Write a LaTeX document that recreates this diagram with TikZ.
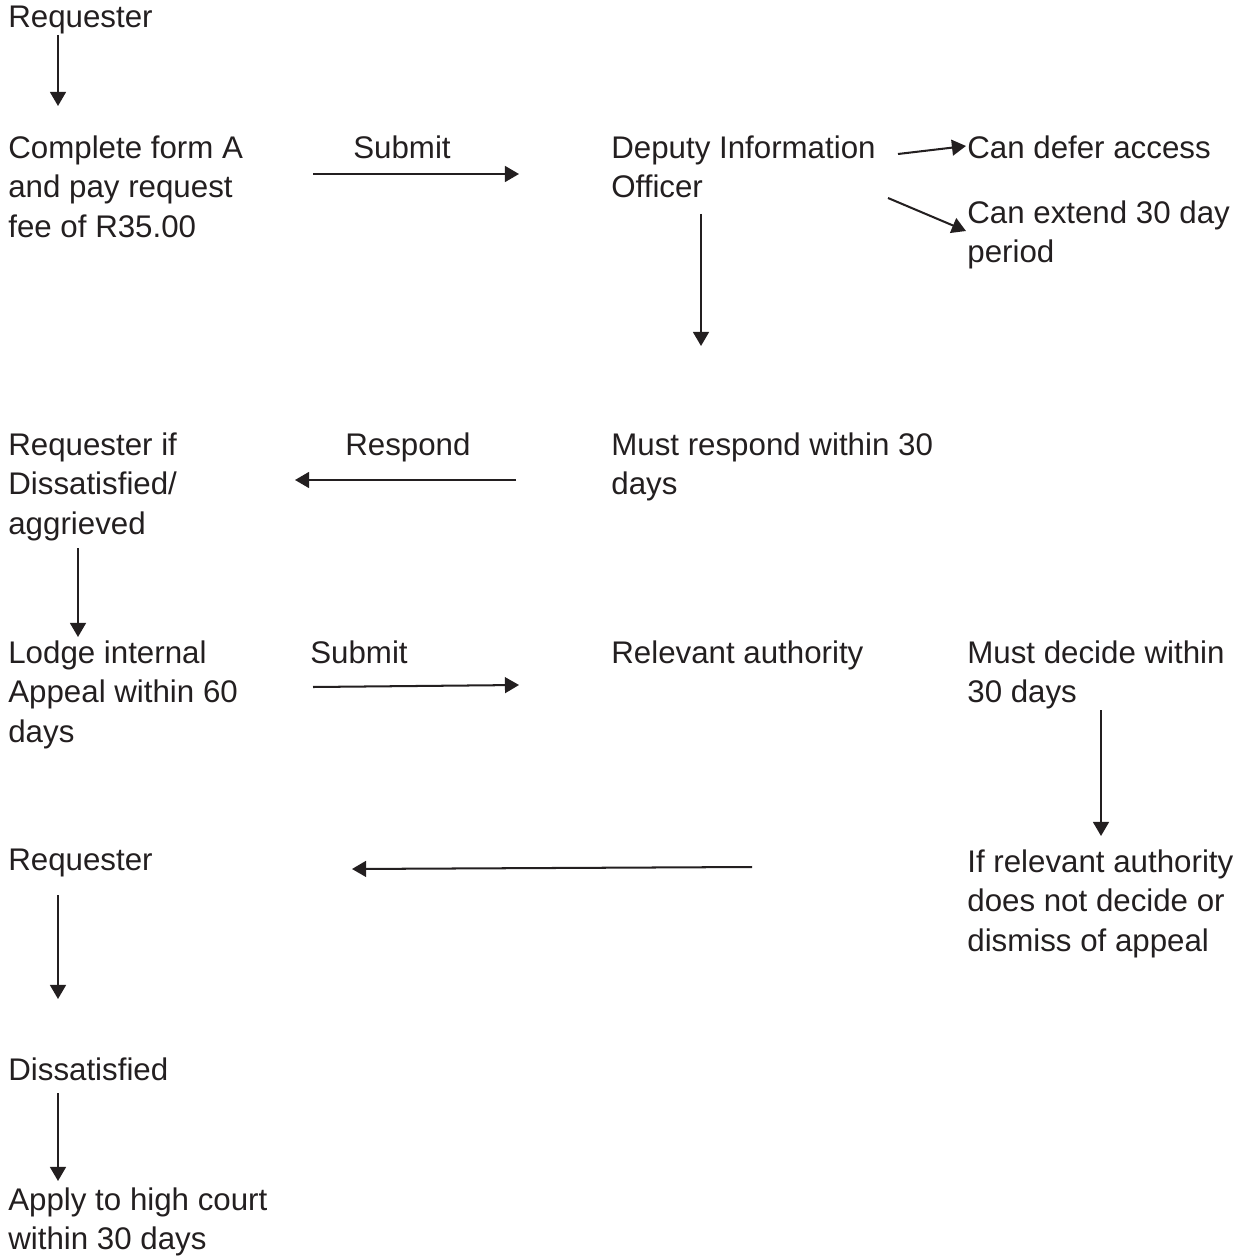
\documentclass[tikz,border=0pt]{standalone}
\usepackage{fontspec}
\setmainfont{Liberation Sans}
\usetikzlibrary{arrows.meta}
\definecolor{inkgray}{RGB}{35,31,32}
\tikzset{
  txt/.style={anchor=north west,inner sep=0pt,align=left,text=inkgray,
    font=\fontsize{17.8}{22.5}\selectfont},
  flow/.style={-{Triangle[width=9pt,length=8pt]},line width=1.15pt,draw=inkgray}
}
\begin{document}
\begin{tikzpicture}[x=0.02cm,y=-0.02cm]
		\useasboundingbox (0,0) rectangle (1245,1256);
		% texts
		\node[txt] (req) at (8,6) {Requester};
		\node[txt] (form) at (8,135) {Complete form A\\and pay request\\fee of R35.00};
		\node[txt] (subA) at (353,135) {Submit};
		\node[txt] (dio) at (611,135) {Deputy Information\\Officer};
		\node[txt] (defer) at (967,135) {Can defer access};
		\node[txt] (extend) at (967,200) {Can extend 30 day\\period};
		\node[txt] (must) at (611,432) {Must respond within 30\\days};
		\node[txt] (reqdis) at (8,432) {Requester if\\Dissatisfied/\\aggrieved};
		\node[txt] (respond) at (345,432) {Respond};
		\node[txt] (lodge) at (8,640) {Lodge internal\\Appeal within 60\\days};
		\node[txt] (subB) at (310,640) {Submit};
		\node[txt] (auth) at (611,640) {Relevant authority};
		\node[txt] (decide) at (967,640) {Must decide within\\30 days};
		\node[txt] (reqB) at (8,849) {Requester};
		\node[txt] (ifauth) at (967,849) {If relevant authority\\does not decide or\\dismiss of appeal};
		\node[txt] (dissat) at (8,1057) {Dissatisfied};
		\node[txt] (court) at (8,1187) {Apply to high court\\within 30 days};
		% arrow ends
		\coordinate (reqS) at (58,35);
		\coordinate (formN) at (58,106);
		\coordinate (formE) at (313,174);
		\coordinate (dioW) at (519,174);
		\coordinate (dioE1) at (898,154);
		\coordinate (deferW) at (966,146);
		\coordinate (dioE2) at (888,198);
		\coordinate (extendW) at (966,231);
		\coordinate (dioS) at (701,214);
		\coordinate (mustN) at (701,346);
		\coordinate (mustW) at (516,480);
		\coordinate (reqdisE) at (295,480);
		\coordinate (reqdisS) at (78,548);
		\coordinate (lodgeN) at (78,637);
		\coordinate (lodgeE) at (313,687);
		\coordinate (authW) at (519,685);
		\coordinate (decideS) at (1101,710);
		\coordinate (ifauthN) at (1101,836);
		\coordinate (ifauthW) at (752,867);
		\coordinate (reqBE) at (352,869);
		\coordinate (reqBS) at (58,895);
		\coordinate (dissatN) at (58,999);
		\coordinate (dissatS) at (58,1093);
		\coordinate (courtN) at (58,1181);
		% arrows
		\draw[flow] (reqS) -- (formN);
		\draw[flow] (formE) -- (dioW);
		\draw[flow] (dioE1) -- (deferW);
		\draw[flow] (dioE2) -- (extendW);
		\draw[flow] (dioS) -- (mustN);
		\draw[flow] (mustW) -- (reqdisE);
		\draw[flow] (reqdisS) -- (lodgeN);
		\draw[flow] (lodgeE) -- (authW);
		\draw[flow] (decideS) -- (ifauthN);
		\draw[flow] (ifauthW) -- (reqBE);
		\draw[flow] (reqBS) -- (dissatN);
		\draw[flow] (dissatS) -- (courtN);
	\end{tikzpicture}
\end{document}
